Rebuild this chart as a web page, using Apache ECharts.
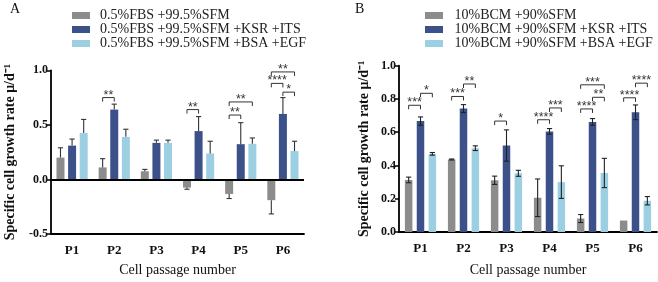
<!DOCTYPE html>
<html><head><meta charset="utf-8">
<script src="https://cdn.jsdelivr.net/npm/echarts@6/dist/echarts.min.js"></script>
<style>html,body{margin:0;padding:0;background:#fff}#c{width:658px;height:282px}</style>
</head><body><div id="c"></div>
<script>
const categories = ['P1', 'P2', 'P3', 'P4', 'P5', 'P6'];
const yTicksA = [-0.5, 0.0, 0.5, 1.0];
const yTicksB = [0.0, 0.2, 0.4, 0.6, 0.8, 1.0];

const namesA = ['0.5%FBS +99.5%SFM', '0.5%FBS +99.5%SFM +KSR +ITS', '0.5%FBS +99.5%SFM +BSA +EGF'];
const namesB = ['10%BCM +90%SFM', '10%BCM +90%SFM +KSR +ITS', '10%BCM +90%SFM +BSA +EGF'];

// Panel A means and errors
const aGray = [0.20, 0.11, 0.075, -0.075, -0.133, -0.19];
const aGrayErr = [0.09, 0.08, 0.017, 0.015, 0.042, 0.126];
const aNavy = [0.31, 0.64, 0.335, 0.443, 0.323, 0.60];
const aNavyErr = [0.06, 0.05, 0.025, 0.133, 0.197, 0.15];
const aLight = [0.425, 0.39, 0.335, 0.238, 0.326, 0.26];
const aLightErr = [0.125, 0.07, 0.025, 0.112, 0.054, 0.09];

// Panel B means and errors
const bGray = [0.313, 0.436, 0.311, 0.206, 0.081, 0.069];
const bGrayErr = [0.017, 0.003, 0.025, 0.113, 0.024, 0];
const bNavy = [0.667, 0.742, 0.52, 0.605, 0.662, 0.72];
const bNavyErr = [0.025, 0.024, 0.094, 0.017, 0.02, 0.044];
const bLight = [0.47, 0.504, 0.353, 0.30, 0.355, 0.188];
const bLightErr = [0.008, 0.014, 0.018, 0.098, 0.088, 0.025];

// significance brackets: [category, fromGroup, toGroup, height]
const bracketsA = [[1, 0, 1, 0.75], [3, 0, 1, 0.64], [4, 0, 1, 0.59], [4, 0, 2, 0.71], [5, 0, 1, 0.88], [5, 1, 2, 0.80], [5, 0, 2, 0.985]];
const starsA = ['**', '**', '**', '**', '****', '*', '**'];
const bracketsB = [[0, 0, 1, 0.762], [0, 1, 2, 0.834], [1, 0, 1, 0.815], [1, 1, 2, 0.89], [2, 0, 1, 0.667], [3, 0, 1, 0.675], [3, 1, 2, 0.746], [4, 0, 1, 0.74], [4, 1, 2, 0.81], [4, 0, 2, 0.885], [5, 0, 1, 0.807], [5, 1, 2, 0.895]];
const starsB = ['***', '*', '***', '**', '*', '****', '***', '****', '**', '***', '****', '****'];

const colors = ['#8c8c8c', '#3c5189', '#9dcfe2'];
const serif = '"Liberation Serif", "Times New Roman", serif';

const barWA = 8, gapA = 0.45;
const barWB = 7.5, gapB = 0.58;
const pitchA = barWA * (1 + gapA);
const pitchB = barWB * (1 + gapB);

function errData(groups) {
  const out = [];
  groups.forEach((g, s) => g[0].forEach((v, i) => out.push([i, v, g[1][i], s])));
  return out;
}

function errRender(pitch, twoSided) {
  return function (params, api) {
    const cat = api.value(0), v = api.value(1), e = api.value(2), s = api.value(3);
    if (!e) return null;
    const base = api.coord([cat, v]);
    const x = base[0] + (s - 1) * pitch;
    const cap = 2.6;
    const children = [];
    if (twoSided) {
      const hi = api.coord([cat, v + e])[1];
      const lo = api.coord([cat, v - e])[1];
      children.push({ type: 'line', shape: { x1: x, y1: hi, x2: x, y2: lo }, style: { stroke: '#222', lineWidth: 1.1 } });
      children.push({ type: 'line', shape: { x1: x - cap, y1: hi, x2: x + cap, y2: hi }, style: { stroke: '#222', lineWidth: 1.1 } });
      children.push({ type: 'line', shape: { x1: x - cap, y1: lo, x2: x + cap, y2: lo }, style: { stroke: '#222', lineWidth: 1.1 } });
    } else {
      const end = api.coord([cat, v + (v < 0 ? -e : e)])[1];
      children.push({ type: 'line', shape: { x1: x, y1: base[1], x2: x, y2: end }, style: { stroke: '#333', lineWidth: 1.1 } });
      children.push({ type: 'line', shape: { x1: x - cap, y1: end, x2: x + cap, y2: end }, style: { stroke: '#333', lineWidth: 1.1 } });
    }
    return { type: 'group', children };
  };
}

function bracketRender(pitch, stars) {
  return function (params, api) {
    const cat = api.value(0), f = api.value(1), t = api.value(2), h = api.value(3);
    const c = api.coord([cat, h]);
    const x1 = c[0] + (f - 1) * pitch, x2 = c[0] + (t - 1) * pitch, y = c[1];
    return {
      type: 'group',
      children: [
        { type: 'polyline', shape: { points: [[x1, y + 4], [x1, y], [x2, y], [x2, y + 4]] }, style: { stroke: '#333', lineWidth: 1, fill: null } },
        { type: 'text', style: { text: stars[params.dataIndex], x: (x1 + x2) / 2, y: y - 2.5, align: 'center', verticalAlign: 'middle', fontSize: 12.5, fontFamily: '"Liberation Sans", Arial, sans-serif', fill: '#333' } }
      ]
    };
  };
}

function xAxisCfg(gridIndex, margin, nameGap) {
  return {
    type: 'category', gridIndex, data: categories,
    axisLine: { onZero: false, lineStyle: { color: '#000', width: 1.8 } },
    axisTick: { alignWithLabel: true, length: 4, lineStyle: { color: '#000', width: 1.5 } },
    axisLabel: { color: '#111', fontFamily: serif, fontWeight: 'bold', fontSize: 13, margin },
    name: 'Cell passage number', nameLocation: 'middle', nameGap,
    nameTextStyle: { color: '#111', fontFamily: serif, fontSize: 14 }
  };
}

function yAxisCfg(gridIndex, ticks, interval, nameGap) {
  return {
    type: 'value', gridIndex, min: ticks[0], max: ticks[ticks.length - 1], interval,
    splitLine: { show: false },
    axisLine: { show: true, onZero: false, lineStyle: { color: '#000', width: 1.8 } },
    axisTick: { show: true, length: 4, lineStyle: { color: '#000', width: 1.5 } },
    axisLabel: { color: '#111', fontFamily: serif, fontWeight: 'bold', fontSize: 12, margin: 3, formatter: v => v.toFixed(1) },
    name: 'Specific cell growth rate μ/d⁻¹', nameLocation: 'middle', nameGap,
    nameTextStyle: { color: '#111', fontFamily: serif, fontWeight: 'bold', fontSize: 14 }
  };
}

function bars(names, vals, axis, barW, gap) {
  return names.map((n, i) => ({
    name: n, type: 'bar', xAxisIndex: axis, yAxisIndex: axis, data: vals[i],
    barWidth: barW, barGap: (gap * 100) + '%', itemStyle: { color: colors[i] }, z: 2,
    markLine: (axis === 0 && i === 0) ? {
      silent: true, symbol: 'none', label: { show: false },
      lineStyle: { color: '#000', width: 1.8, type: 'solid' }, data: [{ yAxis: 0 }], animation: false
    } : undefined
  }));
}

function legendCfg(names, left, pad) {
  return {
    data: names, orient: 'vertical', left, top: 3.5, itemWidth: 18, itemHeight: 7, itemGap: 0,
    icon: 'rect', selectedMode: false,
    textStyle: { fontFamily: serif, fontSize: 14, color: '#222', lineHeight: 13.5, padding: [0, 0, 0, pad] }
  };
}

const chart = echarts.init(document.getElementById('c'), null, { renderer: 'canvas' });
chart.setOption({
  animation: false,
  backgroundColor: '#fff',
  title: [
    { text: 'A', left: 5, top: -3, textStyle: { fontFamily: serif, fontWeight: 'normal', fontSize: 14, color: '#111' } },
    { text: 'B', left: 350, top: -3, textStyle: { fontFamily: serif, fontWeight: 'normal', fontSize: 14, color: '#111' } }
  ],
  legend: [legendCfg(namesA, 67, 5), legendCfg(namesB, 420, 6.5)],
  grid: [
    { left: 51, top: 70.3, width: 253, height: 166.4 },
    { left: 399, top: 65.7, width: 258, height: 169.3 }
  ],
  xAxis: [xAxisCfg(0, 10, 29), xAxisCfg(1, 10, 31)],
  yAxis: [yAxisCfg(0, yTicksA, 0.5, 34), yAxisCfg(1, yTicksB, 0.2, 28)],
  series: [
    ...bars(namesA, [aGray, aNavy, aLight], 0, barWA, gapA),
    ...bars(namesB, [bGray, bNavy, bLight], 1, barWB, gapB),
    { type: 'custom', xAxisIndex: 0, yAxisIndex: 0, z: 5, silent: true, clip: false,
      renderItem: errRender(pitchA, false),
      data: errData([[aGray, aGrayErr], [aNavy, aNavyErr], [aLight, aLightErr]]) },
    { type: 'custom', xAxisIndex: 1, yAxisIndex: 1, z: 5, silent: true, clip: false,
      renderItem: errRender(pitchB, true),
      data: errData([[bGray, bGrayErr], [bNavy, bNavyErr], [bLight, bLightErr]]) },
    { type: 'custom', xAxisIndex: 0, yAxisIndex: 0, z: 5, silent: true, clip: false,
      renderItem: bracketRender(pitchA, starsA), data: bracketsA },
    { type: 'custom', xAxisIndex: 1, yAxisIndex: 1, z: 5, silent: true, clip: false,
      renderItem: bracketRender(pitchB, starsB), data: bracketsB }
  ]
});
</script></body></html>
